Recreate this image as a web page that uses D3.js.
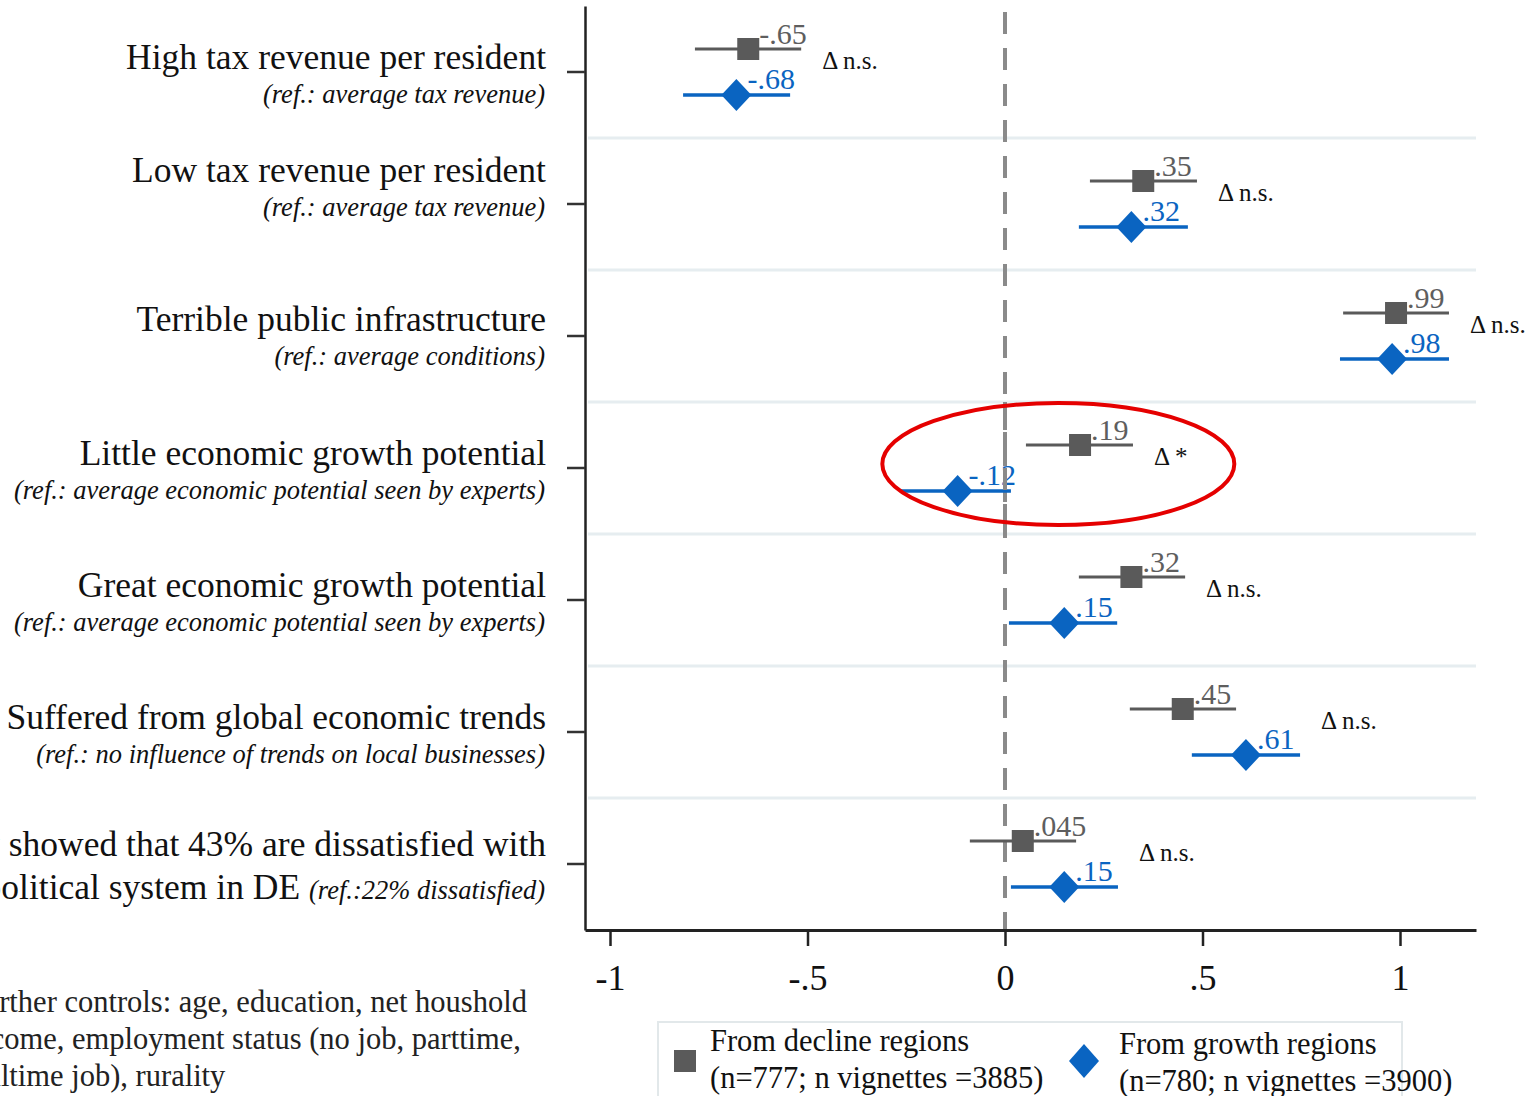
<!DOCTYPE html>
<meta charset="utf-8">
<script src="https://d3js.org/d3.v7.min.js"></script>
<style>
  body { margin: 0; background: #fff; overflow: hidden; }
  text { font-family: "Liberation Serif", "Times New Roman", serif; }
</style>
<div id="chart"></div>
<script>
// data
var mainLabels = [
  ["High tax revenue per resident"],
  ["Low tax revenue per resident"],
  ["Terrible public infrastructure"],
  ["Little economic growth potential"],
  ["Great economic growth potential"],
  ["Suffered from global economic trends"],
  ["Survey showed that 43% are dissatisfied with", "the political system in DE"]
];
var subLabels = [
  "(ref.: average tax revenue)",
  "(ref.: average tax revenue)",
  "(ref.: average conditions)",
  "(ref.: average economic potential seen by experts)",
  "(ref.: average economic potential seen by experts)",
  "(ref.: no influence of trends on local businesses)",
  "(ref.:22% dissatisfied)"
];
var declineEst = [-0.65, 0.35, 0.99, 0.19, 0.32, 0.45, 0.045];
var declineLo  = [-0.785, 0.215, 0.856, 0.053, 0.187, 0.316, -0.089];
var declineHi  = [-0.516, 0.486, 1.124, 0.324, 0.456, 0.585, 0.18];
var declineTxt = ["-.65", ".35", ".99", ".19", ".32", ".45", ".045"];
var growthEst  = [-0.68, 0.32, 0.98, -0.12, 0.15, 0.61, 0.15];
var growthLo   = [-0.815, 0.187, 0.848, -0.266, 0.01, 0.473, 0.015];
var growthHi   = [-0.544, 0.463, 1.124, 0.015, 0.284, 0.747, 0.286];
var growthTxt  = ["-.68", ".32", ".98", "-.12", ".15", ".61", ".15"];
var deltaTxt   = ["\u0394 n.s.", "\u0394 n.s.", "\u0394 n.s.", "\u0394 *", "\u0394 n.s.", "\u0394 n.s.", "\u0394 n.s."];
var xTicks     = [-1, -0.5, 0, 0.5, 1];
var xTickText  = ["-1", "-.5", "0", ".5", "1"];
var footnote   = ["Further controls: age, education, net houshold",
                  "income, employment status (no job, parttime,",
                  "fulltime job), rurality"];
var legendText = [["From decline regions", "(n=777; n vignettes =3885)"],
                  ["From growth regions", "(n=780; n vignettes =3900)"]];

var W = 1531, H = 1096;
var plot = {left: 585, right: 1476, top: 6, bottom: 930};
var grey = "#5a5a5a", blue = "#0a64c1";
// small per-row shift of the left labels (row 2 sits higher in the source)
var labelShift = [0, -19, -2, 0, 0, 0, -5];

var svg = d3.select("#chart").append("svg")
    .attr("width", W).attr("height", H);

var x = d3.scaleLinear().domain([-1.0633, 1.1924]).range([plot.left, plot.right]);
var rows = d3.range(mainLabels.length);
var y = d3.scaleBand().domain(rows).range([plot.top, plot.bottom]).padding(0);
var yc = function(i) { return y(i) + y.bandwidth() / 2; };

// light separators between rows
svg.append("g").selectAll("line")
  .data(rows.slice(1))
  .enter().append("line")
    .attr("x1", plot.left + 3).attr("x2", plot.right)
    .attr("y1", function(i) { return y(i); })
    .attr("y2", function(i) { return y(i); })
    .attr("stroke", "#e6edf0").attr("stroke-width", 3);

// zero reference line
svg.append("line")
    .attr("x1", x(0)).attr("x2", x(0))
    .attr("y1", plot.top + 6).attr("y2", plot.bottom)
    .attr("stroke", "#8a8a8a").attr("stroke-width", 4)
    .attr("stroke-dasharray", "22,14");

// x axis
var xAxis = svg.append("g")
    .attr("transform", "translate(0," + plot.bottom + ")")
    .call(d3.axisBottom(x).tickValues(xTicks)
      .tickFormat(function(d, i) { return xTickText[i]; })
      .tickSize(16).tickSizeOuter(0).tickPadding(18));
xAxis.select(".domain").attr("stroke", "#222").attr("stroke-width", 3);
xAxis.selectAll(".tick line").attr("stroke", "#222").attr("stroke-width", 2.5);
xAxis.selectAll("text").attr("font-size", 36).attr("fill", "#111")
    .style("font-family", "Liberation Serif");

// y axis
var yAxis = svg.append("g")
    .attr("transform", "translate(" + plot.left + ",0)")
    .call(d3.axisLeft(y).tickFormat("").tickSize(18).tickSizeOuter(0));
yAxis.select(".domain").attr("stroke", "#222").attr("stroke-width", 2.5);
yAxis.selectAll(".tick line").attr("stroke", "#333").attr("stroke-width", 2.5);

// row labels
var lab = svg.append("g").attr("text-anchor", "end");
rows.forEach(function(i) {
  var base = yc(i) - 3 + labelShift[i];
  var lines = mainLabels[i];
  lab.append("text").attr("x", 546).attr("y", base)
    .attr("font-size", 35.5).attr("fill", "#111").text(lines[0]);
  if (lines.length === 1) {
    lab.append("text").attr("x", 545).attr("y", base + 34)
      .attr("font-size", 26.5).attr("font-style", "italic").attr("fill", "#111")
      .text(subLabels[i]);
  } else {
    var t = lab.append("text").attr("x", 545).attr("y", base + 43)
      .attr("font-size", 35.5).attr("fill", "#111");
    t.append("tspan").text(lines[1] + " ");
    t.append("tspan").attr("font-size", 26.5).attr("font-style", "italic").text(subLabels[i]);
  }
});

// confidence intervals and point estimates
var off = 23;
var g = svg.append("g");
g.selectAll(".ciD").data(rows).enter().append("line")
    .attr("x1", function(i) { return x(declineLo[i]); })
    .attr("x2", function(i) { return x(declineHi[i]); })
    .attr("y1", function(i) { return yc(i) - off; })
    .attr("y2", function(i) { return yc(i) - off; })
    .attr("stroke", grey).attr("stroke-width", 3);
g.selectAll(".ciG").data(rows).enter().append("line")
    .attr("x1", function(i) { return x(growthLo[i]); })
    .attr("x2", function(i) { return x(growthHi[i]); })
    .attr("y1", function(i) { return yc(i) + off; })
    .attr("y2", function(i) { return yc(i) + off; })
    .attr("stroke", blue).attr("stroke-width", 3.5);

var sq = 22;
g.selectAll(".sq").data(rows).enter().append("rect")
    .attr("x", function(i) { return x(declineEst[i]) - sq / 2; })
    .attr("y", function(i) { return yc(i) - off - sq / 2; })
    .attr("width", sq).attr("height", sq)
    .attr("fill", grey);
var diamond = "M0,-16L15,0L0,16L-15,0Z";
g.selectAll(".dm").data(rows).enter().append("path")
    .attr("d", diamond)
    .attr("transform", function(i) { return "translate(" + x(growthEst[i]) + "," + (yc(i) + off) + ")"; })
    .attr("fill", blue);

// value labels
g.selectAll(".lD").data(rows).enter().append("text")
    .attr("x", function(i) { return x(declineEst[i]) + 11; })
    .attr("y", function(i) { return yc(i) - off - 5; })
    .attr("font-size", 30).attr("fill", "#5e5e5e")
    .text(function(i) { return declineTxt[i]; });
g.selectAll(".lG").data(rows).enter().append("text")
    .attr("x", function(i) { return x(growthEst[i]) + 11; })
    .attr("y", function(i) { return yc(i) + off - 6; })
    .attr("font-size", 30).attr("fill", blue)
    .text(function(i) { return growthTxt[i]; });

// difference tests
g.selectAll(".dl").data(rows).enter().append("text")
    .attr("x", function(i) { return x(Math.max(declineHi[i], growthHi[i])) + 21; })
    .attr("y", function(i) { return yc(i) - 3; })
    .attr("font-size", 25).attr("fill", "#111")
    .text(function(i) { return deltaTxt[i]; });

// redraw the dashes over the -.12 label like in the source
svg.append("line")
    .attr("x1", x(0)).attr("x2", x(0))
    .attr("y1", y(3)).attr("y2", y(3) + y.bandwidth())
    .attr("stroke", "#8a8a8a").attr("stroke-width", 4)
    .attr("stroke-dasharray", "22,14")
    .attr("stroke-dashoffset", -((y(3) - plot.top - 6) % 36) );

// red highlight
svg.append("ellipse")
    .attr("cx", x(0.135)).attr("cy", yc(3) - 4)
    .attr("rx", 176).attr("ry", 61)
    .attr("fill", "none").attr("stroke", "#e50000").attr("stroke-width", 4);

// footnote
svg.append("g").selectAll("text").data(footnote).enter().append("text")
    .attr("x", -33)
    .attr("y", function(d, i) { return 1012 + i * 37; })
    .attr("font-size", 30.5).attr("fill", "#222")
    .text(function(d) { return d; });

// legend
var lg = svg.append("g");
lg.append("rect").attr("x", 658).attr("y", 1022).attr("width", 744).attr("height", 100)
    .attr("fill", "#fff").attr("stroke", "#e2e8ea").attr("stroke-width", 2);
lg.append("rect").attr("x", 674).attr("y", 1050).attr("width", sq).attr("height", sq)
    .attr("fill", grey);
lg.append("path").attr("d", "M0,-17L15,0L0,17L-15,0Z")
    .attr("transform", "translate(1084,1061)").attr("fill", blue);
[[710, 1051], [1119, 1054]].forEach(function(p, k) {
  lg.append("text").attr("x", p[0]).attr("y", p[1])
    .attr("font-size", 30.5).attr("fill", "#111").text(legendText[k][0]);
  lg.append("text").attr("x", p[0]).attr("y", p[1] + 37)
    .attr("font-size", 30.5).attr("fill", "#111").text(legendText[k][1]);
});
</script>
